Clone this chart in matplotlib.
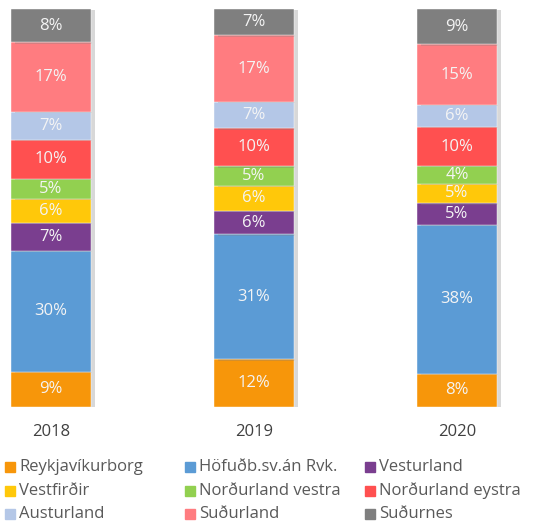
import matplotlib
matplotlib.use("Agg")
import matplotlib.pyplot as plt
import matplotlib.patheffects as pe
from matplotlib.patches import Rectangle
import numpy as np

plt.rcParams['font.family'] = ['Open Sans', 'DejaVu Sans']

years = ["2018", "2019", "2020"]
series = ["Reykjavíkurborg", "Höfuðb.sv.án Rvk.", "Vesturland",
          "Vestfirðir", "Norðurland vestra", "Norðurland eystra",
          "Austurland", "Suðurland", "Suðurnes"]
reykjavik = [8.8, 12.0, 8.3]
hofudb = [30.4, 31.4, 37.6]
vesturland = [7.0, 6.0, 5.3]
vestfirdir = [6.0, 6.3, 5.0]
nordurland_vestra = [5.0, 4.8, 4.4]
nordurland_eystra = [9.8, 9.6, 9.8]
austurland = [7.0, 6.6, 5.6]
sudurland = [17.4, 16.8, 15.2]
sudurnes = [8.4, 6.6, 8.9]
colors = ["#F7960A", "#5B9BD5", "#7A3E8F", "#FFC80A", "#92D050",
          "#FF5050", "#B4C7E7", "#FF7C80", "#7F7F7F"]

values = np.array([reykjavik, hofudb, vesturland, vestfirdir,
                   nordurland_vestra, nordurland_eystra, austurland,
                   sudurland, sudurnes])
totals = values.sum(axis=0)
pct = values / totals * 100

W, H = 539, 521
fig = plt.figure(figsize=(W / 100, H / 100), dpi=100)
ax = fig.add_axes([0, 114 / H, 1, (512 - 114) / H])
x = np.arange(len(years))
bottom = np.zeros(len(years))
shadow = [pe.SimplePatchShadow(offset=(3, -1), shadow_rgbFace="#808080", alpha=0.3), pe.Normal()]
for i, name in enumerate(series):
    bars = ax.bar(x, pct[i], bottom=bottom, width=0.395, color=colors[i],
                  edgecolor="white", linewidth=0.3, zorder=2)
    for b in bars:
        b.set_path_effects(shadow)
    for j in range(len(years)):
        ax.text(x[j], bottom[j] + pct[i][j] / 2, f"{values[i][j]:.0f}%",
                ha="center", va="center", color="#F4F4F4", fontsize=12, zorder=3)
    bottom += pct[i]

ax.set_xlim((0 - 51) / 203, (W - 51) / 203)
ax.set_ylim(0, 100)
ax.set_xticks(x)
ax.set_xticklabels(years, fontsize=12, color="#404040")
ax.tick_params(axis="x", length=0, pad=12)
ax.set_yticks([])
for s in ax.spines.values():
    s.set_visible(False)

col_x = [5, 185, 365]
row_y = [467, 491, 514]
for i, name in enumerate(series):
    c, r = i % 3, i // 3
    fig.patches.append(Rectangle(((col_x[c]) / W, (H - row_y[r] - 5) / H), 10 / W, 10 / H,
                                 transform=fig.transFigure, color=colors[i], figure=fig))
    fig.text((col_x[c] + 14) / W, (H - row_y[r]) / H, name, ha="left", va="center",
             fontsize=12, color="#595959")

fig.savefig("out.png", dpi=100)
